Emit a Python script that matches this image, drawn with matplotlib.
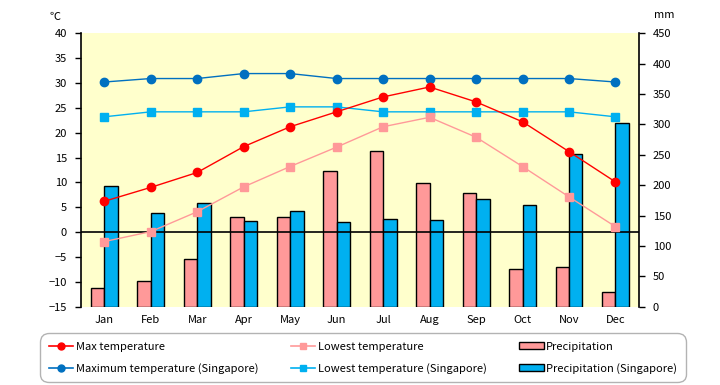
import matplotlib
matplotlib.use("Agg")
import matplotlib.pyplot as plt
import numpy as np
from matplotlib.lines import Line2D
from matplotlib.patches import Patch

plt.rcParams['font.family'] = ['Noto Sans CJK JP', 'DejaVu Sans']

months = ["Jan", "Feb", "Mar", "Apr", "May", "Jun", "Jul", "Aug", "Sep", "Oct", "Nov", "Dec"]
max_temp = [6.2, 9.0, 12.0, 17.2, 21.2, 24.2, 27.2, 29.2, 26.2, 22.2, 16.2, 10.1]
low_temp = [-1.9, 0.1, 4.1, 9.1, 13.2, 17.1, 21.2, 23.1, 19.1, 13.2, 7.1, 1.1]
precip = [31, 42, 78, 148, 147, 224, 257, 203, 187, 62, 65, 24]
max_temp_sg = [30.2, 30.9, 30.9, 31.9, 31.9, 30.9, 30.9, 30.9, 30.9, 30.9, 30.9, 30.2]
low_temp_sg = [23.2, 24.2, 24.2, 24.2, 25.2, 25.2, 24.2, 24.2, 24.2, 24.2, 24.2, 23.2]
precip_sg = [199, 154, 170, 141, 157, 139, 144, 142, 177, 167, 252, 303]

temp_ticks = list(range(-15, 41, 5))
mm_ticks = list(range(0, 451, 50))

fig = plt.figure(figsize=(7.2, 3.85), dpi=100)
ax = fig.add_axes([81/720, 1-306.7/385, (638.7-81)/720, (306.7-33.3)/385])
ax.set_facecolor('#FFFFCC')
ax2 = ax.twinx()

x = np.arange(len(months)) + 0.5
w = 0.29
ax.bar(x - w/2, precip, width=w, color='#FF9999', edgecolor='black', linewidth=1, zorder=2)
ax.bar(x + w/2, precip_sg, width=w, color='#00B0F0', edgecolor='black', linewidth=1, zorder=2)
ax.set_ylim(0, 450)
ax.set_xlim(0, 12)
ax.yaxis.tick_right()
ax.set_yticks(mm_ticks)
ax.set_xticks(x)
ax.set_xticklabels(months)
ax.tick_params(axis='x', length=0, pad=6, labelsize=8)
ax.tick_params(axis='y', direction='out', length=4, width=1, labelsize=8, pad=6,
               left=False, labelleft=False, right=True, labelright=True)
for s in ['top', 'bottom', 'left', 'right']:
    ax.spines[s].set_visible(False)

ax2.set_ylim(-15, 40)
ax2.yaxis.tick_left()
ax2.set_yticks(temp_ticks)
ax2.tick_params(axis='y', direction='out', length=4, width=1, labelsize=8, pad=6,
                left=True, labelleft=True, right=False, labelright=False)
for s in ['top', 'bottom']:
    ax2.spines[s].set_visible(False)
ax2.spines['left'].set_linewidth(1.2)
ax2.spines['right'].set_linewidth(1.2)
ax2.axhline(0, color='black', linewidth=1.2, zorder=1)

ax2.plot(x, max_temp_sg, color='#0070C0', marker='o', markersize=6, linewidth=1)
ax2.plot(x, low_temp_sg, color='#00B0F0', marker='s', markersize=6, linewidth=1)
ax2.plot(x, max_temp, color='#FF0000', marker='o', markersize=6, linewidth=1)
ax2.plot(x, low_temp, color='#FF9999', marker='s', markersize=6, linewidth=1)

fig.text(55/720, 1-17/385, '℃', fontsize=8, ha='center', va='center')
fig.text(664/720, 1-15/385, 'mm', fontsize=8, ha='center', va='center')

handles = [
    Line2D([], [], color='#FF0000', marker='o', markersize=5, linewidth=1.2),
    Line2D([], [], color='#0070C0', marker='o', markersize=5, linewidth=1.2),
    Line2D([], [], color='#FF9999', marker='s', markersize=5, linewidth=1.2),
    Line2D([], [], color='#00B0F0', marker='s', markersize=5, linewidth=1.2),
    Patch(facecolor='#FF9999', edgecolor='black', linewidth=1),
    Patch(facecolor='#00B0F0', edgecolor='black', linewidth=1),
]
labels = ["Max temperature", "Maximum temperature (Singapore)",
          "Lowest temperature", "Lowest temperature (Singapore)",
          "Precipitation", "Precipitation (Singapore)"]
leg = fig.legend(handles, labels, ncol=3, mode='expand',
                 bbox_to_anchor=(40/720, 1-333/385, (686-40)/720, 0.001),
                 loc='upper left', borderaxespad=0, fontsize=8, frameon=True,
                 fancybox=True, edgecolor='#A0A0A0', handlelength=2.2,
                 handletextpad=0.2, handleheight=0.6, labelspacing=1.0,
                 borderpad=0.8)
leg.get_frame().set_linewidth(1)
leg.get_frame().set_boxstyle('round,pad=0,rounding_size=0.8')

fig.savefig('out.png', dpi=100)
